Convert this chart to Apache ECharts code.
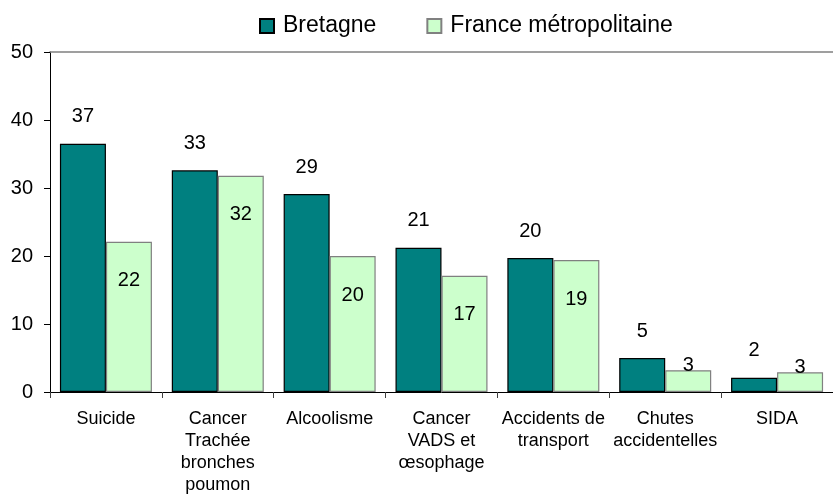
<!DOCTYPE html>
<html>
<head>
<meta charset="utf-8">
<script src="https://cdn.jsdelivr.net/npm/echarts@6/dist/echarts.min.js"></script>
<style>
html,body{margin:0;padding:0;background:#fff;}
#c{width:833px;height:502px;}
</style>
</head>
<body>
<div id="c"></div>
<script>
const categories = ["Suicide", "Cancer\nTrachée\nbronches\npoumon", "Alcoolisme", "Cancer\nVADS et\nœsophage", "Accidents de\ntransport", "Chutes\naccidentelles", "SIDA"];
const bretagne = [36.5, 32.6, 29.1, 21.2, 19.7, 5.0, 2.1];
const france = [22.1, 31.8, 20.0, 17.1, 19.4, 3.2, 2.9];
const yTicks = [0, 10, 20, 30, 40, 50];

const FONT = '"Liberation Sans", Arial, sans-serif';

const franceData = france.map(v => {
  if (v < 5) {
    return { value: v, label: { position: 'top', distance: 0, offset: [0, 5] } };
  }
  return { value: v };
});

const chart = echarts.init(document.getElementById('c'), null, { renderer: 'canvas' });
chart.setOption({
  animation: false,
  backgroundColor: '#ffffff',
  textStyle: { fontFamily: FONT },
  legend: {
    left: 254,
    top: 9,
    itemWidth: 14,
    itemHeight: 14,
    itemGap: 50,
    icon: 'rect',
    textStyle: { fontFamily: FONT, fontSize: 23, color: '#000', lineHeight: 24, padding: [0, 0, 0, 4] },
    data: ['Bretagne', 'France métropolitaine']
  },
  grid: { left: 50, right: -8, top: 52, bottom: 110, containLabel: false },
  xAxis: [{
    type: 'category',
    data: categories,
    axisLine: { show: true, lineStyle: { color: '#000', width: 1 } },
    axisTick: { show: true, alignWithLabel: false, length: 6, lineStyle: { color: '#404040' } },
    axisLabel: { interval: 0, fontFamily: FONT, fontSize: 18, lineHeight: 22, color: '#000', margin: 16 }
  }, {
    type: 'category',
    position: 'top',
    data: categories,
    axisLine: { show: true, lineStyle: { color: '#808080', width: 1.5 } },
    axisTick: { show: false },
    axisLabel: { show: false }
  }],
  yAxis: {
    type: 'value',
    min: yTicks[0],
    max: yTicks[yTicks.length - 1],
    interval: 10,
    axisLine: { show: true, lineStyle: { color: '#000', width: 1 } },
    axisTick: { show: true, length: 6, lineStyle: { color: '#000' } },
    splitLine: { show: false },
    axisLabel: { fontFamily: FONT, fontSize: 20, color: '#000', margin: 17 }
  },
  series: [{
    name: 'Bretagne',
    type: 'bar',
    data: bretagne,
    barWidth: 46,
    barGap: '0%',
    itemStyle: { color: '#008080', borderColor: '#000', borderWidth: 1.2 },
    label: {
      show: true, position: 'top', distance: 17,
      fontFamily: FONT, fontSize: 20, color: '#000',
      formatter: p => Math.round(p.value)
    }
  }, {
    name: 'France métropolitaine',
    type: 'bar',
    data: franceData,
    barWidth: 46,
    barGap: '0%',
    itemStyle: { color: '#ccffcc', borderColor: '#808080', borderWidth: 1.2 },
    label: {
      show: true, position: 'insideTop', distance: 29,
      fontFamily: FONT, fontSize: 20, color: '#000',
      formatter: p => Math.round(p.value)
    }
  }]
});
</script>
</body>
</html>
